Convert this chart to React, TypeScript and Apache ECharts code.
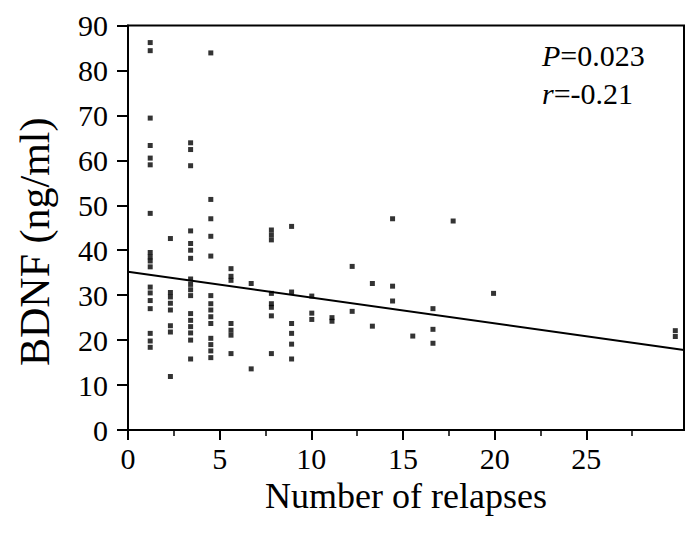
import React, { useEffect, useRef } from "react";
import * as echarts from "echarts";

// Number of relapses (x) and BDNF in ng/ml (y)
const relapses = [
  1, 1, 1, 1, 1, 1, 1, 1, 1, 1, 1, 1, 1, 1, 1, 1, 1, 1,
  2, 2, 2, 2, 2, 2, 2, 2,
  3, 3, 3, 3, 3, 3, 3, 3, 3, 3, 3, 3, 3, 3, 3, 3, 3,
  4, 4, 4, 4, 4, 4, 4, 4, 4, 4, 4, 4, 4, 4,
  5, 5, 5, 5, 5, 5, 5,
  6, 6,
  7, 7, 7, 7, 7, 7, 7, 7,
  8, 8, 8, 8, 8, 8,
  9, 9, 9,
  10, 10,
  11, 11,
  12, 12,
  13, 13, 13,
  14,
  15, 15, 15,
  16,
  18,
  27, 27,
];
const bdnf = [
  86.2, 84.4, 69.4, 63.3, 60.5, 59.0, 48.2, 39.5, 38.5, 37.6, 36.3, 31.8, 30.5, 28.8, 27.0, 21.5, 19.8, 18.4,
  42.6, 30.6, 29.6, 28.2, 26.7, 23.2, 21.8, 11.9,
  63.9, 62.4, 58.8, 44.3, 41.5, 40.0, 38.2, 33.6, 32.4, 31.2, 29.9, 25.9, 24.4, 23.0, 21.6, 20.0, 15.8,
  83.9, 51.3, 47.0, 43.1, 38.7, 29.9, 28.1, 26.7, 25.2, 23.7, 20.4, 19.0, 17.6, 16.1,
  35.9, 34.2, 33.3, 23.7, 22.2, 21.1, 17.0,
  32.6, 13.6,
  44.5, 43.4, 42.3, 30.4, 28.1, 27.3, 25.4, 17.0,
  45.3, 30.7, 23.7, 21.5, 19.1, 15.8,
  29.8, 26.0, 24.6,
  25.0, 24.2,
  36.4, 26.4,
  32.6, 23.1,
  47.0, 32.0, 28.7,
  20.9,
  27.0, 22.4, 19.3,
  46.5,
  30.4,
  22.1, 20.8,
];

// regression line
const fitIntercept = 35.14;
const fitSlope = -0.632;

// axis tick labels
const xTicks = [0, 5, 10, 15, 20, 25];
const yTicks = [0, 10, 20, 30, 40, 50, 60, 70, 80, 90];

const pText = "P";
const pValue = "=0.023";
const rText = "r";
const rValue = "=-0.21";

const FONT = "'Liberation Serif', 'Times New Roman', serif";

export default function App() {
  const ref = useRef<HTMLDivElement>(null);
  useEffect(() => {
    if (!ref.current) return;
    const chart = echarts.init(ref.current, null, { renderer: "svg" });
    const dataMin = -0.1;
    const dataMax = 27.43;
    const points = relapses.map((x, i) => [x, bdnf[i]]);
    const fit = [
      [dataMin, fitIntercept + fitSlope * dataMin],
      [dataMax, fitIntercept + fitSlope * dataMax],
    ];
    chart.setOption({
      animation: false,
      backgroundColor: "#fff",
      grid: {
        left: 128,
        right: 3,
        top: 25.5,
        bottom: 104,
        show: true,
        borderColor: "#000",
        borderWidth: 2,
        containLabel: false,
      },
      xAxis: [
        {
          type: "value",
          min: xTicks[0],
          max: 30.33,
          interval: 5,
          name: "Number of relapses",
          nameLocation: "middle",
          nameGap: 48,
          nameTextStyle: { fontFamily: FONT, fontSize: 36, color: "#000" },
          axisLine: { show: true, lineStyle: { color: "#000", width: 2 } },
          axisTick: {
            show: true,
            inside: false,
            length: 10,
            lineStyle: { color: "#000", width: 2 },
            customValues: xTicks,
          },
          minorTick: { show: true, splitNumber: 2, length: 6, lineStyle: { color: "#000", width: 1.5 } },
          splitLine: { show: false },
          axisLabel: {
            fontFamily: FONT,
            fontSize: 30,
            color: "#000",
            margin: 13,
            customValues: xTicks,
          },
        },
        {
          type: "value",
          min: dataMin,
          max: dataMax,
          show: false,
          splitLine: { show: false },
        },
      ],
      yAxis: {
        type: "value",
        min: yTicks[0],
        max: yTicks[yTicks.length - 1],
        interval: 10,
        name: "BDNF (ng/ml)",
        nameLocation: "middle",
        nameGap: 72,
        nameRotate: 90,
        nameTextStyle: { fontFamily: FONT, fontSize: 42, color: "#000", padding: [0, 28, 0, 0] },
        axisLine: { show: true, lineStyle: { color: "#000", width: 2 } },
        axisTick: { show: true, inside: false, length: 11, lineStyle: { color: "#000", width: 2 } },
        splitLine: { show: false },
        axisLabel: { fontFamily: FONT, fontSize: 30, color: "#000", margin: 20 },
      },
      series: [
        {
          type: "scatter",
          xAxisIndex: 1,
          data: points,
          symbol: "rect",
          symbolSize: 5,
          itemStyle: { color: "#000" },
        },
        {
          type: "line",
          xAxisIndex: 1,
          data: fit,
          symbol: "none",
          lineStyle: { color: "#000", width: 2 },
        },
      ],
      graphic: [
        {
          type: "text",
          left: 542,
          top: 40,
          style: {
            text: `{i|${pText}}${pValue}`,
            font: `30px ${FONT}`,
            fill: "#000",
            rich: { i: { fontStyle: "italic", fontFamily: FONT, fontSize: 30 } },
          },
        },
        {
          type: "text",
          left: 542,
          top: 78,
          style: {
            text: `{i|${rText}}${rValue}`,
            font: `30px ${FONT}`,
            fill: "#000",
            rich: { i: { fontStyle: "italic", fontFamily: FONT, fontSize: 30 } },
          },
        },
      ],
    });
    return () => chart.dispose();
  }, []);
  return <div ref={ref} style={{ width: 687, height: 534, position: "absolute", left: 0, top: 0 }} />;
}
